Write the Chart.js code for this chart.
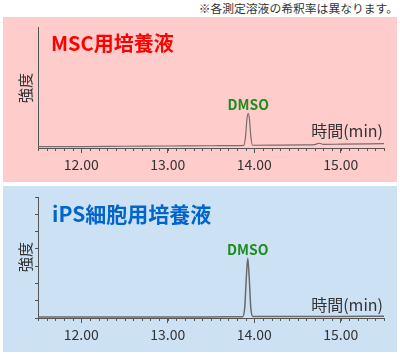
<!DOCTYPE html>
<html><head><meta charset="utf-8">
<script src="https://cdn.jsdelivr.net/npm/chart.js@4"></script>
<style>
html,body{margin:0;padding:0;background:#fff;}
body{width:400px;height:354px;position:relative;overflow:hidden;font-family:"Noto Sans CJK JP","Noto Sans",sans-serif;}
.panel{position:absolute;left:3px;width:394px;}
#p1{top:17px;height:165px;background:#ffcccc;}
#p2{top:186px;height:166px;background:#cde1f5;}
canvas{position:absolute;left:0;}
.t{position:absolute;white-space:nowrap;line-height:1;}
#note{right:2px;top:2px;font-size:11.8px;color:#333;}
#title1{left:51px;top:33px;font-size:20px;font-weight:bold;color:#ff0000;}
#title2{left:52px;top:203px;font-size:21px;font-weight:bold;color:#0066cc;}
.xl{right:17px;font-size:16px;color:#333;}
.yl{font-size:15px;color:#333;transform:translate(-50%,-50%) rotate(-90deg);}
.pk{font-size:14px;font-weight:bold;color:#1e8c1e;transform:translateX(-50%);}
</style></head>
<body>
<div class="panel" id="p1"></div>
<div class="panel" id="p2"></div>
<canvas id="c1" width="400" height="165" style="top:17px;width:400px;height:165px"></canvas>
<canvas id="c2" width="400" height="166" style="top:186px;width:400px;height:166px"></canvas>
<div class="t" id="note">※各測定溶液の希釈率は異なります。</div>
<div class="t" id="title1">MSC用培養液</div>
<div class="t" id="title2">iPS細胞用培養液</div>
<div class="t xl" style="top:122px">時間(min)</div>
<div class="t xl" style="top:296px">時間(min)</div>
<div class="t yl" style="left:24px;top:88px">強度</div>
<div class="t yl" style="left:24px;top:257px">強度</div>
<div class="t pk" id="pk1">DMSO</div>
<div class="t pk" id="pk2">DMSO</div>
<script>
// x tick values and labels
const tickValues = [12, 13, 14, 15];
const tickLabels = ['12.00', '13.00', '14.00', '15.00'];
// MSC medium chromatogram (time in min, intensity)
const mscTimes = [11.5, 12.0, 12.5, 13.0, 13.5, 13.8, 13.88, 13.90, 13.915, 13.93, 13.945, 13.96, 13.98, 14.3, 14.6, 14.7, 14.75, 14.8, 15.0, 15.5];
const mscValues = [1.5, 1.7, 2.0, 2.3, 2.6, 2.8, 3.0, 14, 33, 40, 33, 14, 3.2, 3.4, 3.7, 4.0, 5.5, 4.2, 4.4, 5.0];
// iPS medium chromatogram
const ipsTimes = [11.5, 12.0, 12.5, 13.0, 13.5, 13.8, 13.865, 13.89, 13.91, 13.925, 13.94, 13.96, 13.985, 14.3, 15.0, 15.5];
const ipsValues = [1.2, 1.2, 1.3, 1.3, 1.3, 1.4, 1.5, 12, 50, 69, 50, 12, 1.6, 1.6, 1.8, 2.0];
// peak annotation
const peakName = 'DMSO';
const mscPeak = [13.93, 40];
const ipsPeak = [13.925, 69];

Chart.defaults.font.family = '"Noto Sans CJK JP","Noto Sans",sans-serif';

const minorTicks = {
  id: 'minorTicks',
  afterDraw(chart) {
    const xs = chart.scales.x, ctx = chart.ctx, y0 = chart.chartArea.bottom;
    ctx.save();
    ctx.strokeStyle = '#555'; ctx.lineWidth = 1;
    for (let k = 0; k <= 40; k++) {
      const px = Math.round(xs.getPixelForValue(xs.min + k * 0.1)) + 0.5;
      ctx.beginPath(); ctx.moveTo(px, y0); ctx.lineTo(px, y0 + 3); ctx.stroke();
    }
    ctx.restore();
  }
};

function makeChart(id, times, vals, color, width, yTicks, top) {
  return new Chart(document.getElementById(id), {
    type: 'line',
    data: { datasets: [{
      data: times.map((t, i) => ({ x: t, y: vals[i] })),
      borderColor: color, borderWidth: width, pointRadius: 0,
      cubicInterpolationMode: 'monotone', fill: false
    }]},
    options: {
      responsive: false, animation: false, devicePixelRatio: 1,
      layout: { padding: { left: 28, right: 16, top: top, bottom: 4 } },
      plugins: { legend: { display: false }, tooltip: { enabled: false } },
      scales: {
        x: {
          type: 'linear', min: 11.5, max: 15.5,
          afterBuildTicks: s => { s.ticks = tickValues.map(v => ({ value: v })); },
          afterFit: s => { s.height = 30; },
          ticks: { callback: (v, i) => tickLabels[i], font: { size: 14 }, color: '#333', padding: 3, maxRotation: 0, autoSkip: false },
          grid: { display: true, drawOnChartArea: false, tickLength: 5, color: '#555', tickColor: '#555' },
          border: { display: true, color: '#555', width: 1 }
        },
        y: {
          min: 0, max: 140,
          afterFit: s => { s.width = 10; },
          ticks: { display: false, stepSize: 20 },
          grid: { display: yTicks, drawOnChartArea: false, tickLength: 3, color: '#555', tickColor: '#555' },
          border: { display: true, color: '#555', width: 1 }
        }
      }
    },
    plugins: [minorTicks]
  });
}

const ch1 = makeChart('c1', mscTimes, mscValues, '#7a6a6a', 1.2, false, 10);
const ch2 = makeChart('c2', ipsTimes, ipsValues, '#6a6a6a', 1.5, true, 11);

function placePeak(chart, canvasTop, peak, elId) {
  const el = document.getElementById(elId);
  el.textContent = peakName;
  const px = chart.scales.x.getPixelForValue(peak[0]);
  const py = chart.scales.y.getPixelForValue(peak[1]) + canvasTop;
  el.style.left = px + 'px';
  el.style.top = (py - 8 - 8) + 'px';
}
placePeak(ch1, 17, mscPeak, 'pk1');
placePeak(ch2, 186, ipsPeak, 'pk2');
</script>
</body></html>
